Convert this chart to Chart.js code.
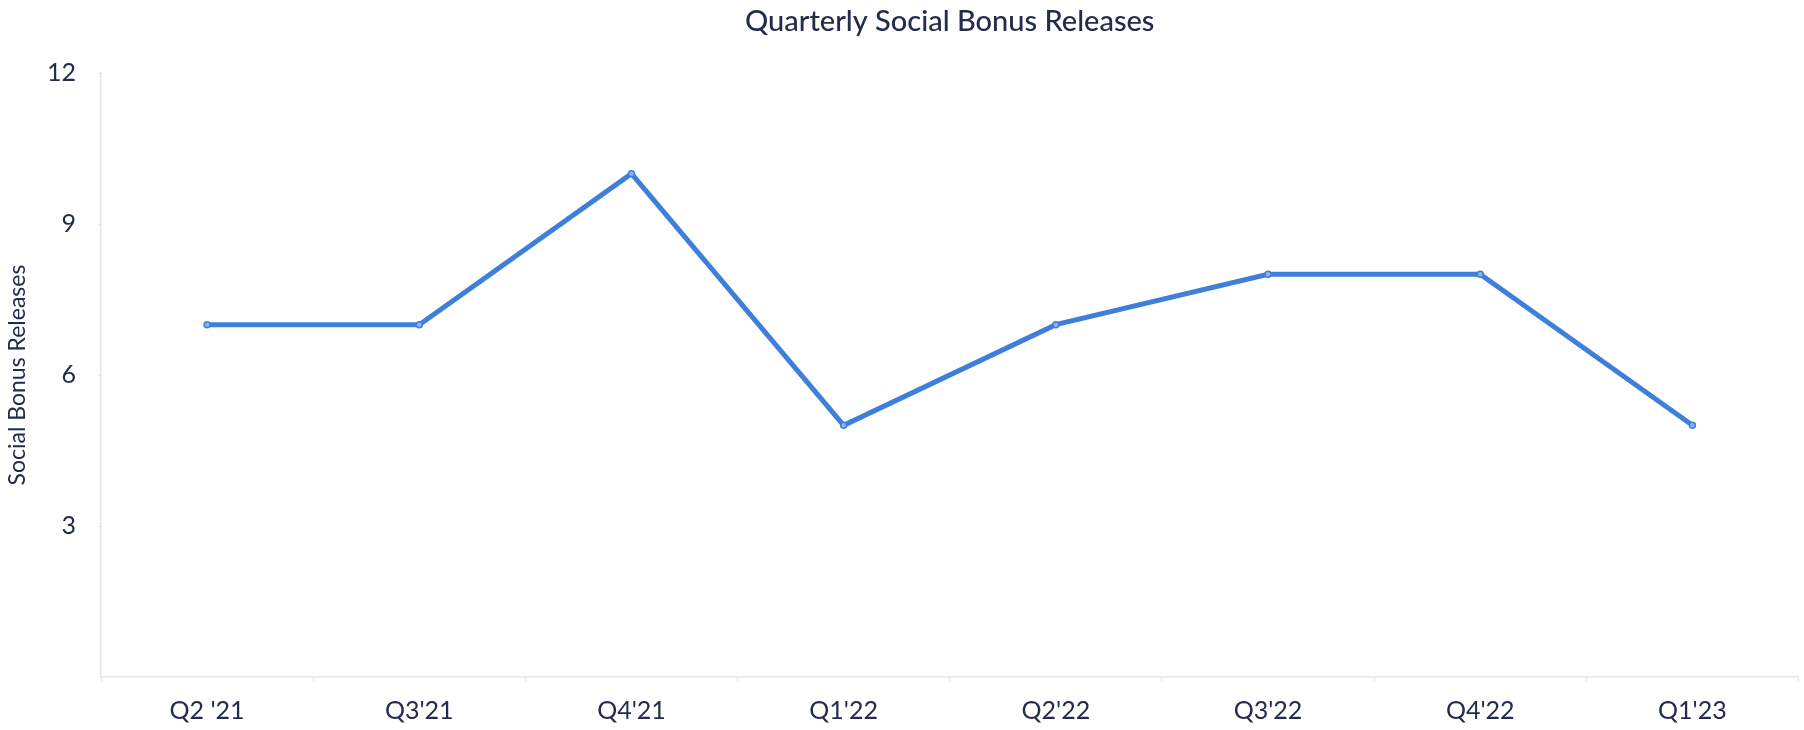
<!DOCTYPE html>
<html>
<head>
<meta charset="utf-8">
<script src="https://cdn.jsdelivr.net/npm/chart.js@4"></script>
<style>
  html, body { margin: 0; padding: 0; background: #ffffff; }
  #wrap { width: 1804px; height: 730px; position: relative; }
</style>
</head>
<body>
<div id="wrap"><canvas id="c" width="1804" height="730"></canvas></div>
<script>
const categories = ["Q2 '21", "Q3'21", "Q4'21", "Q1'22", "Q2'22", "Q3'22", "Q4'22", "Q1'23"];
const releases = [7, 7, 10, 5, 7, 8, 8, 5];
const yTicks = [3, 6, 9, 12];
const chartTitle = "Quarterly Social Bonus Releases";
const yTitle = "Social Bonus Releases";

const textColor = '#232c4a';
const gridColor = '#e6e6e6';
const fontFamily = "Lato, 'Open Sans', sans-serif";

const titlePlugin = {
  id: 'areaTitle',
  afterDraw(chart) {
    const ctx = chart.ctx;
    const a = chart.chartArea;
    ctx.save();
    ctx.fillStyle = textColor;
    ctx.font = "500 29px " + fontFamily;
    ctx.textAlign = 'center';
    ctx.textBaseline = 'middle';
    ctx.fillText(chartTitle, (a.left + a.right) / 2, 22);
    ctx.restore();
  }
};

new Chart(document.getElementById('c'), {
  type: 'line',
  data: {
    labels: categories,
    datasets: [{
      data: releases,
      borderColor: '#3f7fdb',
      backgroundColor: '#6a9ce4',
      borderWidth: 5,
      pointRadius: 3,
      pointBorderWidth: 1.5,
      pointBackgroundColor: '#8fb4ea',
      pointBorderColor: '#3f7fdb',
      tension: 0
    }]
  },
  options: {
    responsive: false,
    animation: false,
    devicePixelRatio: 1,
    layout: { padding: { top: 73, left: 4, right: 4, bottom: 0 } },
    plugins: {
      legend: { display: false },
      tooltip: { enabled: false },
      title: { display: false }
    },
    scales: {
      x: {
        offset: true,
        grid: {
          display: true,
          drawOnChartArea: false,
          offset: true,
          tickLength: 5,
          color: gridColor
        },
        border: { display: true, color: gridColor, width: 1.5 },
        ticks: {
          color: textColor,
          font: { family: fontFamily, size: 25 },
          padding: 14,
          maxRotation: 0,
          autoSkip: false
        },
        afterFit(scale) { scale.height = 53; }
      },
      y: {
        min: 0,
        max: 12,
        afterBuildTicks(scale) {
          scale.ticks = yTicks.map(v => ({ value: v }));
        },
        grid: {
          display: true,
          drawOnChartArea: false,
          tickLength: 3,
          color: gridColor
        },
        border: { display: true, color: gridColor, width: 1.5 },
        ticks: {
          color: textColor,
          font: { family: fontFamily, size: 25 },
          padding: 22
        },
        title: {
          display: true,
          text: yTitle,
          color: textColor,
          font: { family: fontFamily, size: 23 },
          padding: { top: 0, bottom: 4 }
        },
        afterFit(scale) { scale.width = 97; }
      }
    }
  },
  plugins: [titlePlugin]
});
</script>
</body>
</html>
